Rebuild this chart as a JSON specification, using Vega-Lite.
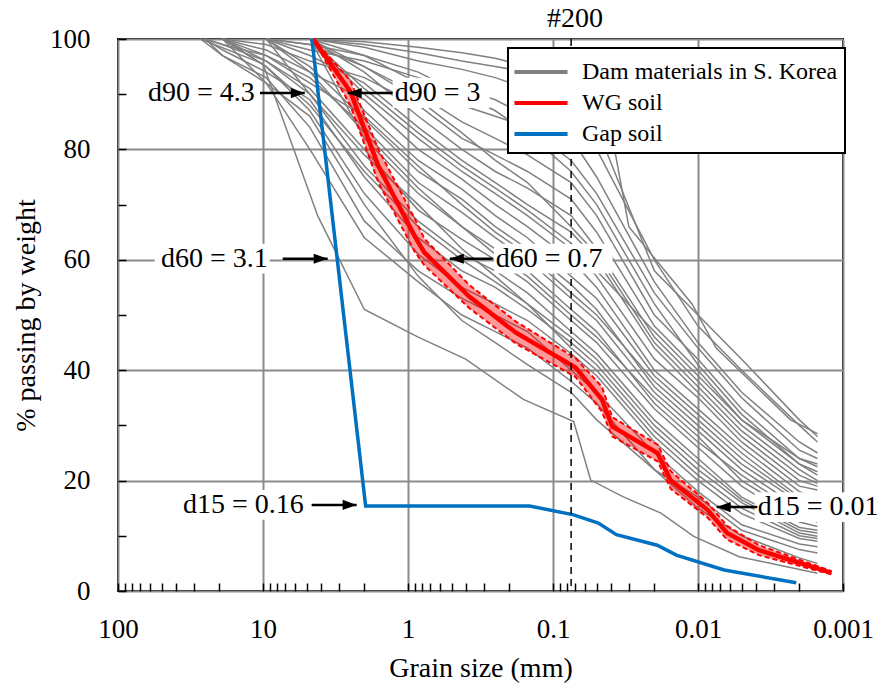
{
"$schema": "https://vega.github.io/schema/vega-lite/v6.json",
"width": 725, "height": 552,
"autosize": "none",
"padding": {"left": 118, "top": 39, "right": 44, "bottom": 96},
"config": {
 "font": "Liberation Serif",
 "view": {"stroke": "black", "strokeWidth": 2},
 "axis": {"labelFont": "Liberation Serif", "titleFont": "Liberation Serif", "labelColor": "black", "titleColor": "black", "titleFontWeight": "normal"},
 "legend": {"strokeColor": "black", "strokeWidth": 2, "fillColor": "white", "padding": 7, "symbolStrokeWidth": 4, "labelFont": "Liberation Serif", "labelFontSize": 24, "labelColor": "black", "labelLimit": 400, "rowPadding": 2, "labelOffset": 24, "symbolOffset": 9}
},
"datasets": {
 "gray": [
{"s":1,"d":4.75,"p":100},{"s":1,"d":2,"p":99},{"s":1,"d":0.85,"p":97.5},{"s":1,"d":0.425,"p":96},{"s":1,"d":0.25,"p":95},{"s":1,"d":0.15,"p":94},{"s":1,"d":0.075,"p":91},{"s":1,"d":0.05,"p":86},{"s":1,"d":0.037,"p":79},{"s":1,"d":0.03,"p":66},{"s":1,"d":0.011,"p":52},{"s":1,"d":0.0075,"p":44},{"s":1,"d":0.0023,"p":31},{"s":1,"d":0.0015,"p":28.5},
{"s":2,"d":4.75,"p":100},{"s":2,"d":2,"p":98.5},{"s":2,"d":0.85,"p":96},{"s":2,"d":0.425,"p":94.5},{"s":2,"d":0.25,"p":93},{"s":2,"d":0.15,"p":91},{"s":2,"d":0.075,"p":87},{"s":2,"d":0.05,"p":80},{"s":2,"d":0.02,"p":60},{"s":2,"d":0.01,"p":48},{"s":2,"d":0.005,"p":40},{"s":2,"d":0.002,"p":30},{"s":2,"d":0.0015,"p":27},
{"s":3,"d":9.5,"p":100},{"s":3,"d":4.75,"p":98},{"s":3,"d":2,"p":96},{"s":3,"d":0.85,"p":93},{"s":3,"d":0.425,"p":91},{"s":3,"d":0.25,"p":89},{"s":3,"d":0.15,"p":86},{"s":3,"d":0.075,"p":82},{"s":3,"d":0.05,"p":75},{"s":3,"d":0.02,"p":56},{"s":3,"d":0.01,"p":45},{"s":3,"d":0.005,"p":36},{"s":3,"d":0.002,"p":27},{"s":3,"d":0.0015,"p":25},
{"s":4,"d":4.75,"p":100},{"s":4,"d":2,"p":97},{"s":4,"d":0.85,"p":92},{"s":4,"d":0.425,"p":88},{"s":4,"d":0.25,"p":86},{"s":4,"d":0.15,"p":84},{"s":4,"d":0.075,"p":78},{"s":4,"d":0.05,"p":72},{"s":4,"d":0.02,"p":54},{"s":4,"d":0.01,"p":44},{"s":4,"d":0.005,"p":35},{"s":4,"d":0.002,"p":25.5},{"s":4,"d":0.0015,"p":24},
{"s":5,"d":9.5,"p":100},{"s":5,"d":4.75,"p":99},{"s":5,"d":2,"p":95},{"s":5,"d":0.85,"p":90},{"s":5,"d":0.425,"p":85},{"s":5,"d":0.25,"p":82},{"s":5,"d":0.15,"p":79},{"s":5,"d":0.075,"p":74},{"s":5,"d":0.05,"p":68},{"s":5,"d":0.02,"p":50},{"s":5,"d":0.01,"p":42},{"s":5,"d":0.005,"p":33},{"s":5,"d":0.002,"p":24},{"s":5,"d":0.0015,"p":22.5},
{"s":6,"d":19,"p":100},{"s":6,"d":9.5,"p":99},{"s":6,"d":4.75,"p":96},{"s":6,"d":2,"p":93},{"s":6,"d":0.85,"p":88},{"s":6,"d":0.425,"p":82},{"s":6,"d":0.25,"p":79},{"s":6,"d":0.15,"p":76},{"s":6,"d":0.075,"p":71},{"s":6,"d":0.05,"p":65},{"s":6,"d":0.02,"p":48},{"s":6,"d":0.01,"p":40},{"s":6,"d":0.005,"p":31},{"s":6,"d":0.002,"p":23},{"s":6,"d":0.0015,"p":21.6},
{"s":7,"d":4.75,"p":100},{"s":7,"d":2,"p":94},{"s":7,"d":0.85,"p":86},{"s":7,"d":0.425,"p":80},{"s":7,"d":0.25,"p":76},{"s":7,"d":0.15,"p":73},{"s":7,"d":0.075,"p":68},{"s":7,"d":0.05,"p":62},{"s":7,"d":0.02,"p":46},{"s":7,"d":0.01,"p":38},{"s":7,"d":0.005,"p":30},{"s":7,"d":0.002,"p":22},{"s":7,"d":0.0015,"p":20},
{"s":8,"d":9.5,"p":100},{"s":8,"d":4.75,"p":97},{"s":8,"d":2,"p":92},{"s":8,"d":0.85,"p":84},{"s":8,"d":0.425,"p":78},{"s":8,"d":0.25,"p":74},{"s":8,"d":0.15,"p":70},{"s":8,"d":0.075,"p":65},{"s":8,"d":0.05,"p":60},{"s":8,"d":0.02,"p":44},{"s":8,"d":0.01,"p":36},{"s":8,"d":0.005,"p":28},{"s":8,"d":0.002,"p":20},{"s":8,"d":0.0015,"p":19},
{"s":9,"d":4.75,"p":100},{"s":9,"d":2,"p":90},{"s":9,"d":0.85,"p":82},{"s":9,"d":0.425,"p":76},{"s":9,"d":0.25,"p":72},{"s":9,"d":0.15,"p":68},{"s":9,"d":0.075,"p":62},{"s":9,"d":0.05,"p":57},{"s":9,"d":0.02,"p":42},{"s":9,"d":0.01,"p":35},{"s":9,"d":0.005,"p":27},{"s":9,"d":0.002,"p":19},{"s":9,"d":0.0015,"p":18.3},
{"s":10,"d":19,"p":100},{"s":10,"d":9.5,"p":98},{"s":10,"d":4.75,"p":94},{"s":10,"d":2,"p":89},{"s":10,"d":0.85,"p":80},{"s":10,"d":0.425,"p":74.6},{"s":10,"d":0.25,"p":70},{"s":10,"d":0.15,"p":66},{"s":10,"d":0.075,"p":60},{"s":10,"d":0.05,"p":55},{"s":10,"d":0.02,"p":40},{"s":10,"d":0.01,"p":33},{"s":10,"d":0.005,"p":26},{"s":10,"d":0.002,"p":18},{"s":10,"d":0.0015,"p":17},
{"s":11,"d":4.75,"p":100},{"s":11,"d":2,"p":87},{"s":11,"d":0.85,"p":78},{"s":11,"d":0.425,"p":72.8},{"s":11,"d":0.25,"p":68},{"s":11,"d":0.15,"p":64},{"s":11,"d":0.075,"p":57},{"s":11,"d":0.05,"p":53},{"s":11,"d":0.02,"p":39},{"s":11,"d":0.01,"p":32},{"s":11,"d":0.005,"p":25},{"s":11,"d":0.002,"p":17},{"s":11,"d":0.0015,"p":16.5},
{"s":12,"d":9.5,"p":100},{"s":12,"d":4.75,"p":95},{"s":12,"d":2,"p":85.5},{"s":12,"d":0.85,"p":76},{"s":12,"d":0.425,"p":71},{"s":12,"d":0.25,"p":66},{"s":12,"d":0.15,"p":62},{"s":12,"d":0.075,"p":55.5},{"s":12,"d":0.05,"p":51},{"s":12,"d":0.02,"p":37},{"s":12,"d":0.01,"p":30},{"s":12,"d":0.005,"p":23},{"s":12,"d":0.002,"p":16},{"s":12,"d":0.0015,"p":15},
{"s":13,"d":25,"p":100},{"s":13,"d":19,"p":99},{"s":13,"d":9.5,"p":97},{"s":13,"d":4.75,"p":93},{"s":13,"d":2,"p":84},{"s":13,"d":0.85,"p":74},{"s":13,"d":0.425,"p":68.6},{"s":13,"d":0.25,"p":64},{"s":13,"d":0.15,"p":60},{"s":13,"d":0.075,"p":53},{"s":13,"d":0.05,"p":49},{"s":13,"d":0.02,"p":36},{"s":13,"d":0.01,"p":29},{"s":13,"d":0.005,"p":22},{"s":13,"d":0.002,"p":15},{"s":13,"d":0.0015,"p":14},
{"s":14,"d":4.75,"p":100},{"s":14,"d":2,"p":82},{"s":14,"d":0.85,"p":72},{"s":14,"d":0.425,"p":66},{"s":14,"d":0.25,"p":62},{"s":14,"d":0.15,"p":58},{"s":14,"d":0.075,"p":51},{"s":14,"d":0.05,"p":47},{"s":14,"d":0.02,"p":34},{"s":14,"d":0.01,"p":27},{"s":14,"d":0.005,"p":21},{"s":14,"d":0.002,"p":14},{"s":14,"d":0.0015,"p":13},
{"s":15,"d":19,"p":100},{"s":15,"d":9.5,"p":96},{"s":15,"d":4.75,"p":91},{"s":15,"d":2,"p":80},{"s":15,"d":0.85,"p":69},{"s":15,"d":0.425,"p":63.7},{"s":15,"d":0.25,"p":60},{"s":15,"d":0.15,"p":56},{"s":15,"d":0.075,"p":49},{"s":15,"d":0.05,"p":45},{"s":15,"d":0.02,"p":33},{"s":15,"d":0.01,"p":26},{"s":15,"d":0.005,"p":19},{"s":15,"d":0.002,"p":12.5},{"s":15,"d":0.0015,"p":11.7},
{"s":16,"d":9.5,"p":100},{"s":16,"d":4.75,"p":90},{"s":16,"d":2,"p":77},{"s":16,"d":0.85,"p":67},{"s":16,"d":0.425,"p":61},{"s":16,"d":0.25,"p":58},{"s":16,"d":0.15,"p":54},{"s":16,"d":0.075,"p":47},{"s":16,"d":0.05,"p":43},{"s":16,"d":0.02,"p":31},{"s":16,"d":0.01,"p":24},{"s":16,"d":0.005,"p":17},{"s":16,"d":0.002,"p":11.5},{"s":16,"d":0.0015,"p":11},
{"s":17,"d":25,"p":100},{"s":17,"d":19,"p":98},{"s":17,"d":9.5,"p":94},{"s":17,"d":4.75,"p":89},{"s":17,"d":2,"p":75},{"s":17,"d":0.85,"p":64},{"s":17,"d":0.425,"p":58},{"s":17,"d":0.25,"p":55},{"s":17,"d":0.15,"p":51},{"s":17,"d":0.075,"p":45},{"s":17,"d":0.05,"p":41},{"s":17,"d":0.02,"p":29},{"s":17,"d":0.01,"p":22},{"s":17,"d":0.005,"p":16},{"s":17,"d":0.002,"p":10.5},{"s":17,"d":0.0015,"p":9.9},
{"s":18,"d":19,"p":100},{"s":18,"d":9.5,"p":95},{"s":18,"d":4.75,"p":87},{"s":18,"d":2,"p":72},{"s":18,"d":0.85,"p":61},{"s":18,"d":0.425,"p":55},{"s":18,"d":0.25,"p":52},{"s":18,"d":0.15,"p":49},{"s":18,"d":0.075,"p":43},{"s":18,"d":0.05,"p":39},{"s":18,"d":0.02,"p":27},{"s":18,"d":0.01,"p":20},{"s":18,"d":0.005,"p":14},{"s":18,"d":0.002,"p":9.5},{"s":18,"d":0.0015,"p":9},
{"s":19,"d":25,"p":100},{"s":19,"d":19,"p":97},{"s":19,"d":9.5,"p":93},{"s":19,"d":4.75,"p":84},{"s":19,"d":2,"p":67},{"s":19,"d":0.85,"p":58},{"s":19,"d":0.425,"p":53},{"s":19,"d":0.25,"p":50},{"s":19,"d":0.15,"p":47},{"s":19,"d":0.075,"p":40},{"s":19,"d":0.05,"p":36},{"s":19,"d":0.02,"p":25},{"s":19,"d":0.01,"p":18},{"s":19,"d":0.005,"p":12},{"s":19,"d":0.002,"p":8.5},{"s":19,"d":0.0015,"p":8},
{"s":20,"d":19,"p":100},{"s":20,"d":9.5,"p":92},{"s":20,"d":4.75,"p":80},{"s":20,"d":2,"p":64},{"s":20,"d":0.85,"p":56},{"s":20,"d":0.425,"p":50},{"s":20,"d":0.25,"p":47},{"s":20,"d":0.15,"p":44},{"s":20,"d":0.075,"p":38},{"s":20,"d":0.05,"p":34},{"s":20,"d":0.02,"p":22},{"s":20,"d":0.01,"p":17},{"s":20,"d":0.005,"p":11},{"s":20,"d":0.002,"p":7.5},{"s":20,"d":0.0015,"p":6.9},
{"s":21,"d":27,"p":100},{"s":21,"d":10,"p":95.5},{"s":21,"d":4.2,"p":68},{"s":21,"d":2,"p":51},{"s":21,"d":0.85,"p":46},{"s":21,"d":0.4,"p":42},{"s":21,"d":0.16,"p":34.7},{"s":21,"d":0.072,"p":30.7},{"s":21,"d":0.055,"p":20.1},{"s":21,"d":0.033,"p":17.1},{"s":21,"d":0.018,"p":14.1},{"s":21,"d":0.0107,"p":9.9},{"s":21,"d":0.0052,"p":6.2},{"s":21,"d":0.0015,"p":3.2},
{"s":22,"d":27,"p":100},{"s":22,"d":19,"p":97},{"s":22,"d":9.5,"p":92},{"s":22,"d":4.75,"p":86},{"s":22,"d":2,"p":70},{"s":22,"d":0.85,"p":57},{"s":22,"d":0.425,"p":49},{"s":22,"d":0.25,"p":45},{"s":22,"d":0.15,"p":41},{"s":22,"d":0.075,"p":36},{"s":22,"d":0.05,"p":31},{"s":22,"d":0.02,"p":22},{"s":22,"d":0.01,"p":15},{"s":22,"d":0.005,"p":10},{"s":22,"d":0.002,"p":6},{"s":22,"d":0.0015,"p":5},
{"s":23,"d":4.75,"p":100},{"s":23,"d":2,"p":99.5},{"s":23,"d":0.85,"p":98.5},{"s":23,"d":0.425,"p":97.5},{"s":23,"d":0.25,"p":96.5},{"s":23,"d":0.15,"p":95},{"s":23,"d":0.075,"p":92},{"s":23,"d":0.05,"p":84},{"s":23,"d":0.02,"p":58},{"s":23,"d":0.01,"p":50},{"s":23,"d":0.005,"p":42},{"s":23,"d":0.002,"p":31},{"s":23,"d":0.0015,"p":28},
{"s":24,"d":9.5,"p":100},{"s":24,"d":4.75,"p":99},{"s":24,"d":2,"p":97},{"s":24,"d":0.85,"p":94},{"s":24,"d":0.425,"p":90},{"s":24,"d":0.25,"p":87},{"s":24,"d":0.15,"p":83},{"s":24,"d":0.075,"p":76},{"s":24,"d":0.05,"p":70},{"s":24,"d":0.02,"p":52},{"s":24,"d":0.01,"p":41},{"s":24,"d":0.005,"p":32},{"s":24,"d":0.002,"p":23},{"s":24,"d":0.0015,"p":21},
{"s":25,"d":4.75,"p":100},{"s":25,"d":2,"p":95},{"s":25,"d":0.85,"p":89},{"s":25,"d":0.425,"p":83},{"s":25,"d":0.25,"p":78},{"s":25,"d":0.15,"p":74},{"s":25,"d":0.075,"p":66},{"s":25,"d":0.05,"p":61},{"s":25,"d":0.02,"p":45},{"s":25,"d":0.01,"p":37},{"s":25,"d":0.005,"p":29},{"s":25,"d":0.002,"p":21},{"s":25,"d":0.0015,"p":19.5},
{"s":26,"d":19,"p":100},{"s":26,"d":9.5,"p":97},{"s":26,"d":4.75,"p":92},{"s":26,"d":2,"p":86},{"s":26,"d":0.85,"p":77},{"s":26,"d":0.425,"p":70},{"s":26,"d":0.25,"p":65},{"s":26,"d":0.15,"p":61},{"s":26,"d":0.075,"p":54},{"s":26,"d":0.05,"p":50},{"s":26,"d":0.02,"p":38},{"s":26,"d":0.01,"p":31},{"s":26,"d":0.005,"p":24},{"s":26,"d":0.002,"p":16.5},{"s":26,"d":0.0015,"p":15.5},
{"s":27,"d":9.5,"p":100},{"s":27,"d":4.75,"p":94},{"s":27,"d":2,"p":83},{"s":27,"d":0.85,"p":73},{"s":27,"d":0.425,"p":66},{"s":27,"d":0.25,"p":61},{"s":27,"d":0.15,"p":57},{"s":27,"d":0.075,"p":50},{"s":27,"d":0.05,"p":46},{"s":27,"d":0.02,"p":35},{"s":27,"d":0.01,"p":28},{"s":27,"d":0.005,"p":20},{"s":27,"d":0.002,"p":13.5},{"s":27,"d":0.0015,"p":12.5},
{"s":28,"d":25,"p":100},{"s":28,"d":19,"p":99},{"s":28,"d":9.5,"p":96},{"s":28,"d":4.75,"p":90},{"s":28,"d":2,"p":79},{"s":28,"d":0.85,"p":70},{"s":28,"d":0.425,"p":62},{"s":28,"d":0.25,"p":57},{"s":28,"d":0.15,"p":52},{"s":28,"d":0.075,"p":46},{"s":28,"d":0.05,"p":42},{"s":28,"d":0.02,"p":30},{"s":28,"d":0.01,"p":23},{"s":28,"d":0.005,"p":16.5},{"s":28,"d":0.002,"p":11},{"s":28,"d":0.0015,"p":10.5},
{"s":29,"d":4.75,"p":100},{"s":29,"d":2,"p":91},{"s":29,"d":0.85,"p":83},{"s":29,"d":0.425,"p":77},{"s":29,"d":0.25,"p":73},{"s":29,"d":0.15,"p":69},{"s":29,"d":0.075,"p":63},{"s":29,"d":0.05,"p":58},{"s":29,"d":0.02,"p":47},{"s":29,"d":0.01,"p":39},{"s":29,"d":0.005,"p":31},{"s":29,"d":0.002,"p":24},{"s":29,"d":0.0015,"p":23},
{"s":30,"d":19,"p":100},{"s":30,"d":9.5,"p":95},{"s":30,"d":4.75,"p":88},{"s":30,"d":2,"p":76},{"s":30,"d":0.85,"p":66},{"s":30,"d":0.425,"p":60},{"s":30,"d":0.25,"p":56},{"s":30,"d":0.15,"p":52},{"s":30,"d":0.075,"p":44},{"s":30,"d":0.05,"p":40},{"s":30,"d":0.02,"p":28},{"s":30,"d":0.01,"p":21},{"s":30,"d":0.005,"p":15},{"s":30,"d":0.002,"p":10},{"s":30,"d":0.0015,"p":9.5}
 ],
 "wg": [
{"d":4.5,"p":100,"lo":100,"hi":100},
{"d":2.5,"p":90.5,"lo":88,"hi":92.5},
{"d":1.6,"p":77,"lo":74,"hi":80},
{"d":0.9,"p":64.3,"lo":61.5,"hi":67.5},
{"d":0.77,"p":61.3,"lo":59,"hi":63.8},
{"d":0.38,"p":53.4,"lo":51.3,"hi":55.5},
{"d":0.18,"p":46.8,"lo":44.8,"hi":48.8},
{"d":0.07,"p":40.5,"lo":38.8,"hi":42.2},
{"d":0.046,"p":34.7,"lo":32.5,"hi":37},
{"d":0.039,"p":29.8,"lo":28,"hi":31.5},
{"d":0.019,"p":25,"lo":23.5,"hi":26.5},
{"d":0.0154,"p":20,"lo":18.5,"hi":21.7},
{"d":0.0086,"p":14.7,"lo":13.3,"hi":16},
{"d":0.0063,"p":10.5,"lo":9.3,"hi":11.8},
{"d":0.0038,"p":7.4,"lo":6.5,"hi":8.3},
{"d":0.0012,"p":3.3,"lo":3,"hi":3.6}
 ],
 "gap": [
{"d":4.6,"p":100},{"d":1.96,"p":15.4},{"d":0.145,"p":15.4},{"d":0.072,"p":13.8},{"d":0.0487,"p":12.3},{"d":0.0365,"p":10.2},{"d":0.0191,"p":8.3},{"d":0.0141,"p":6.5},{"d":0.0066,"p":3.8},{"d":0.0021,"p":1.5}
 ],
 "boxes": [
{"xa":70.8,"xb":11.05,"ya":87.5,"yb":93},
{"xa":1.276,"xb":0.273,"ya":87.5,"yb":93},
{"xa":55.8,"xb":8.99,"ya":57.5,"yb":62.9},
{"xa":0.255,"xb":0.0388,"ya":57.5,"yb":62.9},
{"xa":40.6,"xb":5.08,"ya":12.9,"yb":18.3},
{"xa":0.00407,"xb":0.000525,"ya":12.5,"yb":17.9}
 ],
 "ann": [
{"d":11.4,"p":90.2,"label":"d90 = 4.3","side":"R"},
{"d":1.236,"p":90.2,"label":"d90 = 3","side":"L"},
{"d":9.28,"p":60.2,"label":"d60 = 3.1","side":"R"},
{"d":0.248,"p":60.2,"label":"d60 = 0.7","side":"L"},
{"d":5.24,"p":15.6,"label":"d15 = 0.16","side":"R"},
{"d":0.00387,"p":15.2,"label":"d15 = 0.01","side":"L"}
 ],
 "arrows": [
{"tail":10.5,"tip":5.15,"p":90.2,"dir":"R"},
{"tail":1.276,"tip":2.606,"p":90.2,"dir":"L"},
{"tail":7.31,"tip":3.58,"p":60.2,"dir":"R"},
{"tail":0.261,"tip":0.515,"p":60.2,"dir":"L"},
{"tail":4.62,"tip":2.26,"p":15.6,"dir":"R"},
{"tail":0.0039,"tip":0.00743,"p":15.2,"dir":"L"}
 ],
 "sieve": [{"d":0.075,"label":"#200"}]
},
"layer": [
 {
  "data": {"name": "gray"},
  "mark": {"type": "line", "strokeWidth": 1.5},
  "encoding": {
   "x": {"field": "d", "type": "quantitative",
    "scale": {"type": "log", "domain": [0.001, 100], "reverse": true, "nice": false},
    "axis": {"orient": "bottom", "values": [100, 10, 1, 0.1, 0.01, 0.001], "labelExpr": "format(datum.value, '~g')", "ticks": false, "grid": true, "gridColor": "#8c8c8c", "gridWidth": 2, "domain": false, "labelFont": "Liberation Serif", "labelFontSize": 27, "labelPadding": 25, "labelFlush": false, "labelOverlap": false, "title": "Grain size (mm)", "titleFont": "Liberation Serif", "titleFontWeight": "normal", "titleFontSize": 28, "titlePadding": 12}},
   "y": {"field": "p", "type": "quantitative",
    "scale": {"domain": [0, 100], "nice": false},
    "axis": {"orient": "left", "values": [0, 20, 40, 60, 80, 100], "ticks": false, "grid": true, "gridColor": "#8c8c8c", "gridWidth": 2, "domain": false, "labelFont": "Liberation Serif", "labelFontSize": 27, "labelPadding": 28, "labelFlush": false, "title": "% passing by weight", "titleFont": "Liberation Serif", "titleFontWeight": "normal", "titleFontSize": 28, "titlePadding": 9}},
   "detail": {"field": "s", "type": "nominal"},
   "color": {"datum": "Dam materials in S. Korea", "type": "nominal",
    "scale": {"domain": ["Dam materials in S. Korea", "WG soil", "Gap soil"], "range": ["#808080", "#ff0000", "#0070c0"]},
    "legend": {"orient": "none", "legendX": 390, "legendY": 9, "title": null, "symbolType": "M-1.77,0L1.77,0", "symbolSize": 900, "labelFont": "Liberation Serif", "labelFontSize": 24, "labelLimit": 400}}
  }
 },
 {
  "data": {"name": "wg"},
  "mark": {"type": "area", "color": "#ff0000", "opacity": 0.4},
  "encoding": {
   "x": {"field": "d", "type": "quantitative", "axis": null},
   "y": {"field": "lo", "type": "quantitative", "axis": null},
   "y2": {"field": "hi"}
  }
 },
 {
  "data": {"name": "wg"},
  "mark": {"type": "line", "color": "#ff0000", "strokeWidth": 2, "strokeDash": [5, 3]},
  "encoding": {
   "x": {"field": "d", "type": "quantitative", "axis": null},
   "y": {"field": "lo", "type": "quantitative", "axis": null}
  }
 },
 {
  "data": {"name": "wg"},
  "mark": {"type": "line", "color": "#ff0000", "strokeWidth": 2, "strokeDash": [5, 3]},
  "encoding": {
   "x": {"field": "d", "type": "quantitative", "axis": null},
   "y": {"field": "hi", "type": "quantitative", "axis": null}
  }
 },
 {
  "data": {"name": "wg"},
  "mark": {"type": "line", "strokeWidth": 4.5},
  "encoding": {
   "x": {"field": "d", "type": "quantitative", "axis": null},
   "y": {"field": "p", "type": "quantitative", "axis": null},
   "color": {"datum": "WG soil", "type": "nominal"}
  }
 },
 {
  "data": {"name": "gap"},
  "mark": {"type": "line", "strokeWidth": 3.5},
  "encoding": {
   "x": {"field": "d", "type": "quantitative",
    "axis": {"orient": "bottom", "values": [100,90,80,70,60,50,40,30,20,10,9,8,7,6,5,4,3,2,1,0.9,0.8,0.7,0.6,0.5,0.4,0.3,0.2,0.1,0.09,0.08,0.07,0.06,0.05,0.04,0.03,0.02,0.01,0.009,0.008,0.007,0.006,0.005,0.004,0.003,0.002,0.001], "labels": false, "grid": false, "domain": false, "ticks": true, "tickSize": -8, "tickColor": "black", "tickWidth": 1.5, "title": null, "zindex": 1}},
   "y": {"field": "p", "type": "quantitative",
    "axis": {"orient": "left", "values": [0,10,20,30,40,50,60,70,80,90,100], "labels": false, "grid": false, "domain": false, "ticks": true, "tickSize": -8, "tickColor": "black", "tickWidth": 1.5, "title": null, "zindex": 1}},
   "color": {"datum": "Gap soil", "type": "nominal"}
  }
 },
 {
  "data": {"name": "sieve"},
  "mark": {"type": "rule", "color": "black", "strokeWidth": 1.5, "strokeDash": [7, 5]},
  "encoding": {
   "x": {"field": "d", "type": "quantitative", "axis": null}
  }
 },
 {
  "data": {"name": "sieve"},
  "mark": {"type": "text", "fontSize": 28, "font": "Liberation Serif", "color": "black", "dy": -20, "dx": 4, "baseline": "middle"},
  "encoding": {
   "x": {"field": "d", "type": "quantitative", "axis": null},
   "y": {"datum": 100, "type": "quantitative", "axis": null},
   "text": {"field": "label"}
  }
 },
 {
  "data": {"name": "boxes"},
  "mark": {"type": "rect", "color": "white", "opacity": 1},
  "encoding": {
   "x": {"field": "xa", "type": "quantitative", "axis": null},
   "x2": {"field": "xb"},
   "y": {"field": "ya", "type": "quantitative", "axis": null},
   "y2": {"field": "yb"}
  }
 },
 {
  "data": {"name": "ann"},
  "transform": [{"filter": "datum.side === 'R'"}],
  "mark": {"type": "text", "fontSize": 28, "font": "Liberation Serif", "color": "black", "align": "right", "baseline": "middle"},
  "encoding": {
   "x": {"field": "d", "type": "quantitative", "axis": null},
   "y": {"field": "p", "type": "quantitative", "axis": null},
   "text": {"field": "label"}
  }
 },
 {
  "data": {"name": "ann"},
  "transform": [{"filter": "datum.side === 'L'"}],
  "mark": {"type": "text", "fontSize": 28, "font": "Liberation Serif", "color": "black", "align": "left", "baseline": "middle"},
  "encoding": {
   "x": {"field": "d", "type": "quantitative", "axis": null},
   "y": {"field": "p", "type": "quantitative", "axis": null},
   "text": {"field": "label"}
  }
 },
 {
  "data": {"name": "arrows"},
  "mark": {"type": "rule", "color": "black", "strokeWidth": 2.5},
  "encoding": {
   "x": {"field": "tail", "type": "quantitative", "axis": null},
   "x2": {"field": "tip"},
   "y": {"field": "p", "type": "quantitative", "axis": null}
  }
 },
 {
  "data": {"name": "arrows"},
  "mark": {"type": "point", "filled": true, "color": "black", "opacity": 1, "size": 784, "strokeWidth": 0},
  "encoding": {
   "x": {"field": "tip", "type": "quantitative", "axis": null},
   "y": {"field": "p", "type": "quantitative", "axis": null},
   "shape": {"field": "dir", "type": "nominal", "legend": null,
    "scale": {"domain": ["R", "L"], "range": ["M0,0L-1,-0.36L-1,0.36Z", "M0,0L1,-0.36L1,0.36Z"]}}
  }
 }
],
"resolve": {"axis": {"x": "independent", "y": "independent"}}
}
